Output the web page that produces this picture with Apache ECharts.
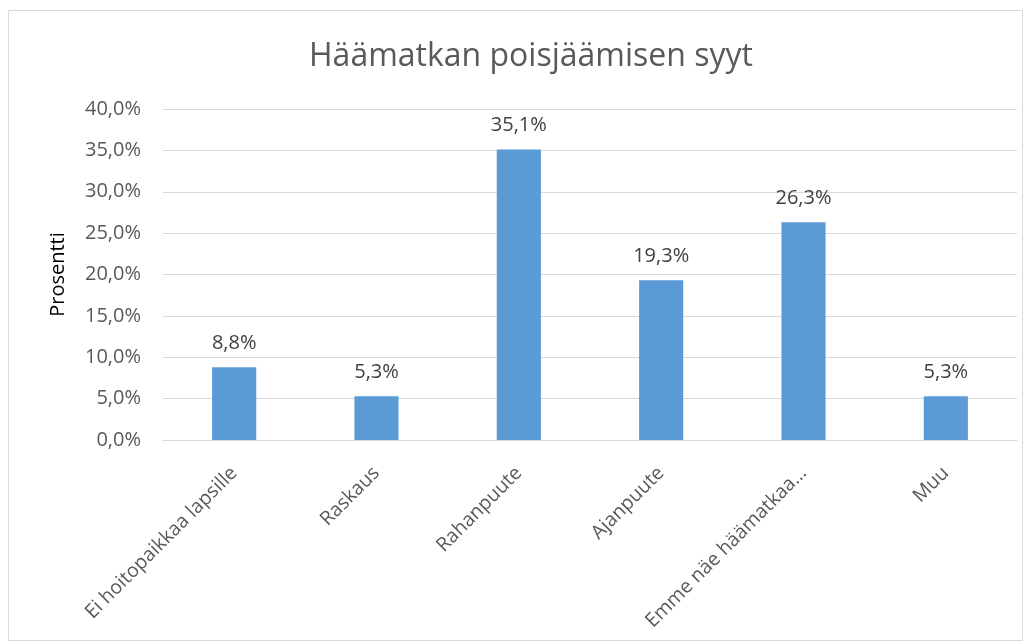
<!DOCTYPE html>
<html>
<head>
<meta charset="utf-8">
<script src="https://cdn.jsdelivr.net/npm/echarts@6/dist/echarts.min.js"></script>
<style>
    html, body { margin: 0; padding: 0; background: #fff; }
    #chart { width: 1032px; height: 641px; }
</style>
</head>
<body>
<div id="chart"></div>
<script>
    var categories = ['Ei hoitopaikkaa lapsille', 'Raskaus', 'Rahanpuute', 'Ajanpuute', 'Emme näe häämatkaa…', 'Muu'];
    var values = [8.8, 5.3, 35.1, 19.3, 26.3, 5.3];
    var title = 'Häämatkan poisjäämisen syyt';
    var yName = 'Prosentti';

    var fontFam = '"Open Sans", "DejaVu Sans", sans-serif';
    function pct(v) {
        return v.toFixed(1).replace('.', ',') + '%';
    }

    var myChart = echarts.init(document.getElementById('chart'));
    var option = {
        animation: false,
        backgroundColor: '#fff',
        title: {
            text: title,
            left: 304,
            top: 36,
            textStyle: { color: '#595959', fontSize: 32, fontWeight: 'normal', fontFamily: fontFam }
        },
        graphic: [{
            type: 'rect',
            shape: { x: 8.5, y: 10.5, width: 1014, height: 630 },
            style: { fill: 'none', stroke: '#d9d9d9', lineWidth: 1 }
        }],
        grid: { left: 163, right: 15, top: 109, bottom: 201, containLabel: false },
        xAxis: {
            type: 'category',
            data: categories,
            axisLine: { lineStyle: { color: '#d9d9d9', width: 1 } },
            axisTick: { show: false },
            axisLabel: {
                rotate: 45, interval: 0, margin: 30,
                color: '#595959', fontSize: 19.5, fontFamily: fontFam
            }
        },
        yAxis: {
            type: 'value',
            min: 0, max: 40, interval: 5,
            name: yName,
            nameLocation: 'middle',
            nameGap: 95,
            nameTextStyle: { color: '#000', fontSize: 20, fontFamily: fontFam },
            axisLine: { show: false },
            axisTick: { show: false },
            splitLine: { lineStyle: { color: '#d9d9d9', width: 1 } },
            axisLabel: {
                margin: 22,
                color: '#595959', fontSize: 20, fontFamily: fontFam,
                formatter: function (v) { return pct(v); }
            }
        },
        series: [{
            type: 'bar',
            data: values,
            barWidth: '31%',
            itemStyle: { color: '#5b9bd5' },
            label: {
                show: true,
                position: 'top',
                distance: 14,
                color: '#404040',
                fontSize: 20,
                fontFamily: fontFam,
                formatter: function (p) { return pct(p.value); }
            }
        }]
    };
    myChart.setOption(option);
</script>
</body>
</html>
